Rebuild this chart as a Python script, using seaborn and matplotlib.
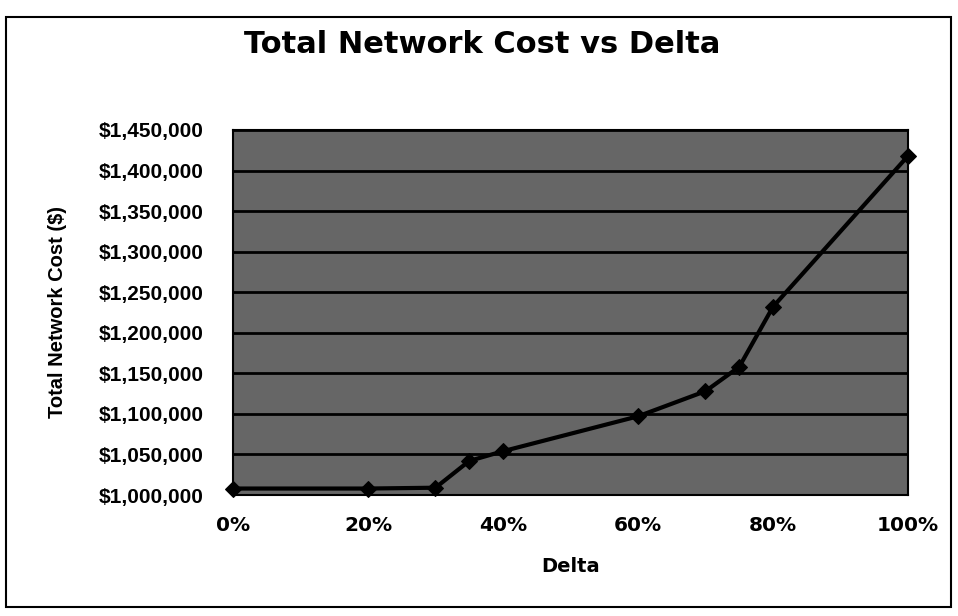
import matplotlib
matplotlib.use("Agg")
import matplotlib.pyplot as plt
import matplotlib.ticker as mticker
from matplotlib.patches import Rectangle
import pandas as pd
import seaborn as sns

# values
delta = [0, 20, 30, 35, 40, 60, 70, 75, 80, 100]
cost = [1008000, 1008000, 1009000, 1042000, 1054000, 1097000, 1128000, 1158000, 1232000, 1418000]
xticks = [0, 20, 40, 60, 80, 100]
yticks = list(range(1000000, 1450001, 50000))

df = pd.DataFrame({"Delta": delta, "Cost": cost})

sns.set_style("white")
plt.rcParams["font.family"] = ["Liberation Sans", "DejaVu Sans"]
plt.rcParams["font.weight"] = "bold"
plt.rcParams["text.color"] = "black"
plt.rcParams["axes.labelcolor"] = "black"
plt.rcParams["xtick.color"] = "black"
plt.rcParams["ytick.color"] = "black"

fig = plt.figure(figsize=(9.58, 6.16), dpi=100)
ax = fig.add_axes([0.2432, 0.1964, 0.7046, 0.5926])
ax.set_facecolor("#666666")

sns.lineplot(data=df, x="Delta", y="Cost", ax=ax, color="black", linewidth=3,
             marker="D", markersize=8, markeredgecolor="black", zorder=5, clip_on=False)

ax.set_xlim(0, 100)
ax.set_ylim(1000000, 1450000)
ax.set_xticks(xticks)
ax.set_yticks(yticks)
ax.xaxis.set_major_formatter(mticker.FuncFormatter(lambda v, p: f"{int(v)}%"))
ax.yaxis.set_major_formatter(mticker.FuncFormatter(lambda v, p: f"${int(v):,}"))
ax.tick_params(axis="both", direction="out", length=5, width=1.5)
ax.tick_params(axis="y", labelsize=15, pad=16)
ax.tick_params(axis="x", labelsize=14.5, pad=10)
for lab in ax.get_yticklabels():
    lab.set_fontweight("bold")
for lab in ax.get_xticklabels():
    lab.set_fontweight("bold")
    lab.set_family("DejaVu Sans")

ax.yaxis.grid(True, color="black", linewidth=2)
ax.xaxis.grid(False)
for s in ax.spines.values():
    s.set_color("black")
    s.set_linewidth(1.5)

ax.set_xlabel("Delta", fontsize=14, fontweight="bold", family="DejaVu Sans")
ax.xaxis.set_label_coords(0.5, -0.17)
ax.set_ylabel("Total Network Cost ($)", fontsize=14.5, fontweight="bold")
ax.yaxis.set_label_coords(-0.246, 0.5)
fig.text(0.503, 0.927, "Total Network Cost vs Delta", ha="center", va="center",
         fontsize=22, fontweight="bold", family="DejaVu Sans")

# chart frame
fig.patches.append(Rectangle((0.006, 0.015), 0.987, 0.957, transform=fig.transFigure,
                             fill=False, edgecolor="black", linewidth=1.5))

fig.savefig("out.png", dpi=100)
